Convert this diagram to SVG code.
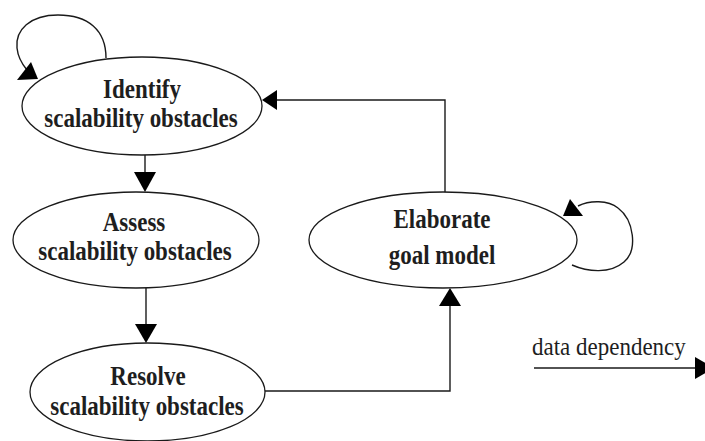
<svg xmlns="http://www.w3.org/2000/svg" width="705" height="441" viewBox="0 0 705 441">
  <style>
    .node { fill: #ffffff; stroke: #1a1a1a; stroke-width: 1.3; }
    .lbl { font-family: "Liberation Serif", "Times New Roman", serif; font-weight: bold; font-size: 23px; fill: #1e1e1e; text-anchor: middle; }
    .edge { fill: none; stroke: #1a1a1a; stroke-width: 1.4; }
    .head { fill: #000000; stroke: none; }
    .legend { font-family: "Liberation Serif", "Times New Roman", serif; font-size: 23px; fill: #1e1e1e; }
  </style>
  <rect width="705" height="441" fill="#ffffff"/>

  <g id="edges">
    <!-- Identify -> Assess -->
    <line class="edge" x1="145" y1="155" x2="145" y2="174"/>
    <polygon class="head" points="134,172 156,172 145,192"/>
    <!-- Assess -> Resolve -->
    <line class="edge" x1="146" y1="288" x2="146" y2="326"/>
    <polygon class="head" points="135,324 157,324 146,343"/>
    <!-- Resolve -> Elaborate -->
    <polyline class="edge" points="265,391 450,391 450,304"/>
    <polygon class="head" points="439,306 461,306 450,288"/>
    <!-- Elaborate -> Identify -->
    <polyline class="edge" points="445,193 445,100 276,100"/>
    <polygon class="head" points="277,90 277,110 262,100"/>
    <!-- Identify self loop -->
    <path class="edge" d="M106,58 C106,30 88,15 58,15 C30,15 15,30 17,48 C18,58 22,64 27,70"/>
    <polygon class="head" points="31,62 17,80 38,79"/>
    <!-- Elaborate self loop -->
    <path class="edge" d="M578,206 C590,200 608,200 618,208 C634,220 638,250 624,262 C610,274 588,272 572,265"/>
    <polygon class="head" points="570,199 563,216 583,216"/>
    <!-- legend arrow -->
    <line class="edge" x1="534" y1="368" x2="697" y2="368"/>
    <polygon class="head" points="695,357 695,379 714,368"/>
  </g>

  <g id="identify">
    <ellipse class="node" cx="142" cy="106" rx="120" ry="49"/>
    <text class="lbl" transform="translate(142,98) scale(1,1.15)">Identify</text>
    <text class="lbl" transform="translate(141,127) scale(1,1.15)">scalability obstacles</text>
  </g>

  <g id="assess">
    <ellipse class="node" cx="136" cy="240" rx="123" ry="48"/>
    <text class="lbl" transform="translate(134,231) scale(1,1.15)">Assess</text>
    <text class="lbl" transform="translate(135,260) scale(1,1.15)">scalability obstacles</text>
  </g>

  <g id="resolve">
    <ellipse class="node" cx="147.5" cy="392" rx="117.5" ry="49"/>
    <text class="lbl" transform="translate(148,385) scale(1,1.15)">Resolve</text>
    <text class="lbl" transform="translate(147,415) scale(1,1.15)">scalability obstacles</text>
  </g>

  <g id="elaborate">
    <ellipse class="node" cx="443" cy="240" rx="134" ry="48"/>
    <text class="lbl" transform="translate(442,228) scale(1,1.15)">Elaborate</text>
    <text class="lbl" transform="translate(442,264) scale(1,1.15)">goal model</text>
  </g>

  <g id="legend">
    <text class="legend" transform="translate(532,355) scale(1,1.08)">data dependency</text>
  </g>
</svg>
